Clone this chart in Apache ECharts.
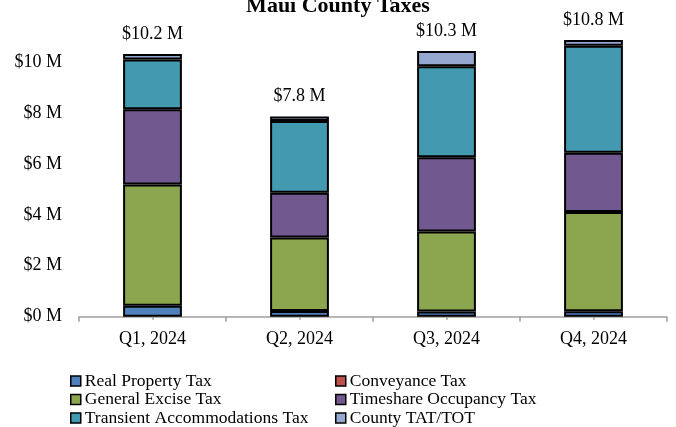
<!DOCTYPE html>
<html><head><meta charset="utf-8">
<script src="https://cdn.jsdelivr.net/npm/echarts@6/dist/echarts.min.js"></script>
<style>html,body{margin:0;padding:0;background:#fff}#c{width:676px;height:427px}</style>
</head><body><div id="c"></div>
<script>
const categories = ['Q1, 2024', 'Q2, 2024', 'Q3, 2024', 'Q4, 2024'];
const realPropertyTax = [0.43, 0.22, 0.20, 0.21];
const conveyanceTax = [0, 0, 0, 0];
const generalExciseTax = [4.76, 2.89, 3.14, 3.90];
const timeshareOccupancyTax = [2.95, 1.76, 2.92, 2.33];
const transientAccommodationsTax = [1.96, 2.81, 3.57, 4.20];
const countyTatTot = [0.21, 0.18, 0.60, 0.22];
const totals = [10.2, 7.8, 10.3, 10.8];
const yTicks = [0, 2, 4, 6, 8, 10];

const names = ['Real Property Tax','Conveyance Tax','General Excise Tax','Timeshare Occupancy Tax','Transient Accommodations Tax','County TAT/TOT'];
const colors = ['#4F81BD','#C0504D','#8BA64E','#71598F','#4399B0','#95A8CF'];
const datas = [realPropertyTax, conveyanceTax, generalExciseTax, timeshareOccupancyTax, transientAccommodationsTax, countyTatTot];
const FONT = '"Liberation Serif", "Times New Roman", serif';

const series = names.map((n, i) => ({
  name: n, type: 'bar', stack: 'all', barWidth: '40%', xAxisIndex: 0,
  data: datas[i].map(v => v === 0 ? null : v),
  itemStyle: { color: colors[i], borderColor: '#000', borderWidth: 2 },
  label: i === names.length - 1 ? {
    show: true, position: 'top', distance: 11,
    formatter: p => '$' + totals[p.dataIndex].toFixed(1) + ' M',
    fontFamily: FONT, fontSize: 18, color: '#000'
  } : { show: false },
  emphasis: { disabled: true }, animation: false
}));

const legendCommon = {
  orient: 'vertical', itemWidth: 10, itemHeight: 10, itemGap: 0.5,
  icon: 'rect',
  itemStyle: { borderColor: '#000', borderWidth: 1.5 },
  textStyle: { fontFamily: FONT, fontSize: 17.5, color: '#000', lineHeight: 17, padding: [0, 0, 0, -1] },
  padding: 0, selectedMode: false
};

const chart = echarts.init(document.getElementById('c'), null, { renderer: 'canvas' });
chart.setOption({
  animation: false,
  title: {
    text: 'Maui County Taxes', left: 'center', top: -10,
    padding: [5, 5, 5, 12],
    textStyle: { fontFamily: FONT, fontSize: 22, fontWeight: 'bold', color: '#000' }
  },
  grid: { left: 79, right: 9, top: 11, bottom: 110.3 },
  legend: [
    Object.assign({ left: 70, top: 372, data: [names[0], names[2], names[4]] }, legendCommon),
    Object.assign({ left: 335, top: 372, data: [names[1], names[3], names[5]] }, legendCommon)
  ],
  xAxis: [{
    type: 'category', data: categories,
    axisLine: { lineStyle: { color: '#A0A0A0', width: 1.5 } },
    axisTick: { show: true, length: 5, lineStyle: { color: '#A0A0A0', width: 1.5 } },
    axisLabel: { fontFamily: FONT, fontSize: 18, color: '#000', margin: 14 }
  }, {
    type: 'category', data: categories, position: 'bottom',
    axisLine: { show: false },
    axisTick: { show: true, alignWithLabel: true, length: 3, lineStyle: { color: '#A0A0A0', width: 1.5 } },
    axisLabel: { show: false }
  }],
  yAxis: {
    type: 'value', min: 0, max: 12, interval: 2,
    axisLine: { show: false }, axisTick: { show: false }, splitLine: { show: false },
    axisLabel: {
      fontFamily: FONT, fontSize: 18, color: '#000', margin: 17,
      formatter: v => yTicks.includes(v) ? '$' + v + ' M' : ''
    }
  },
  series: series
});
</script></body></html>
